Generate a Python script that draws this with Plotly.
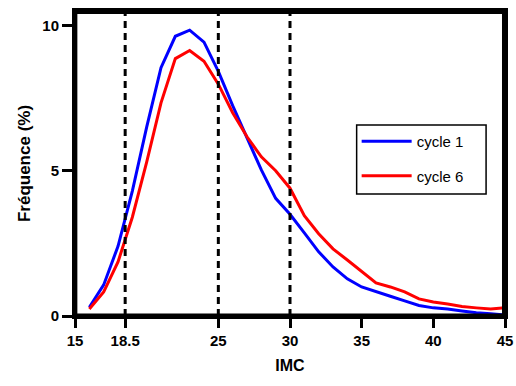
import plotly.graph_objects as go

imc = list(range(16, 46))
cycle1 = [0.30, 1.07, 2.40, 4.30, 6.50, 8.55, 9.63, 9.84, 9.43, 8.42,
          7.24, 6.14, 5.03, 4.05, 3.50, 2.86, 2.21, 1.69, 1.28, 1.00,
          0.83, 0.68, 0.52, 0.36, 0.28, 0.24, 0.17, 0.11, 0.08, 0.03]
cycle6 = [0.24, 0.83, 1.86, 3.40, 5.30, 7.34, 8.86, 9.14, 8.77, 7.98,
          7.00, 6.17, 5.48, 5.00, 4.40, 3.45, 2.83, 2.31, 1.93, 1.55,
          1.14, 1.00, 0.83, 0.59, 0.48, 0.41, 0.33, 0.28, 0.24, 0.28]
ref_lines = [18.5, 25, 30]
xtick_vals = [15, 18.5, 25, 30, 35, 40, 45]
xtick_text = ["15", "18.5", "25", "30", "35", "40", "45"]
ytick_vals = [0, 5, 10]

FONT = "Liberation Sans, Arial, sans-serif"

fig = go.Figure()
fig.add_trace(go.Scatter(x=imc, y=cycle1, mode="lines", name="cycle 1",
                         legendgroup="a",
                         line=dict(color="#0000ff", width=3)))
fig.add_trace(go.Scatter(x=imc, y=cycle6, mode="lines", name="cycle 6",
                         legendgroup="b",
                         line=dict(color="#ff0000", width=3)))

for v in ref_lines:
    fig.add_shape(type="line", xref="x", yref="y domain", x0=v, x1=v, y0=0, y1=1,
                  line=dict(color="black", width=3, dash="7px,5px"), layer="above")

# frame around the plot area (slightly inset so it is not clipped)
fig.add_shape(type="rect", xref="paper", yref="paper",
              x0=0.002, x1=0.9965, y0=0.003, y1=0.995,
              line=dict(color="black", width=3), fillcolor="rgba(0,0,0,0)", layer="above")
# legend box
fig.add_shape(type="rect", xref="paper", yref="paper",
              x0=0.655, x1=0.956, y0=0.40, y1=0.626,
              line=dict(color="black", width=1.5), fillcolor="rgba(0,0,0,0)", layer="above")

fig.update_layout(
    width=516, height=386,
    margin=dict(l=75, r=11, t=11, b=70, autoexpand=False),
    paper_bgcolor="white", plot_bgcolor="white",
    font=dict(family=FONT, color="black"),
    showlegend=True,
    legend=dict(x=0.655, y=0.626, xanchor="left", yanchor="top",
                bgcolor="rgba(0,0,0,0)", borderwidth=0,
                font=dict(family=FONT, size=15, color="black"),
                itemwidth=50,
                tracegroupgap=12, traceorder="grouped"),
    xaxis=dict(range=[15, 45], tickvals=xtick_vals, ticktext=xtick_text,
               automargin=False,
               showgrid=False, zeroline=False,
               showline=True, linecolor="black", linewidth=3, mirror=True,
               ticks="outside", ticklen=9, tickwidth=3, tickcolor="black",
               tickfont=dict(family=FONT, size=15, weight="bold"),
               title=dict(text="IMC", font=dict(family=FONT, size=16, weight="bold"),
                          standoff=12)),
    yaxis=dict(range=[0, 10.5], tickvals=ytick_vals,
               automargin=False,
               showgrid=False, zeroline=False,
               showline=True, linecolor="black", linewidth=3, mirror=True,
               ticks="outside", ticklen=10, tickwidth=3, tickcolor="black",
               tickfont=dict(family=FONT, size=15, weight="bold"),
               title=dict(text="Fréquence (%)", font=dict(family=FONT, size=17, weight="bold"),
                          standoff=8)),
)

fig.write_html("out.html", config={"displayModeBar": False},
               post_script="document.body.style.margin='0px';document.body.style.overflow='hidden';")
